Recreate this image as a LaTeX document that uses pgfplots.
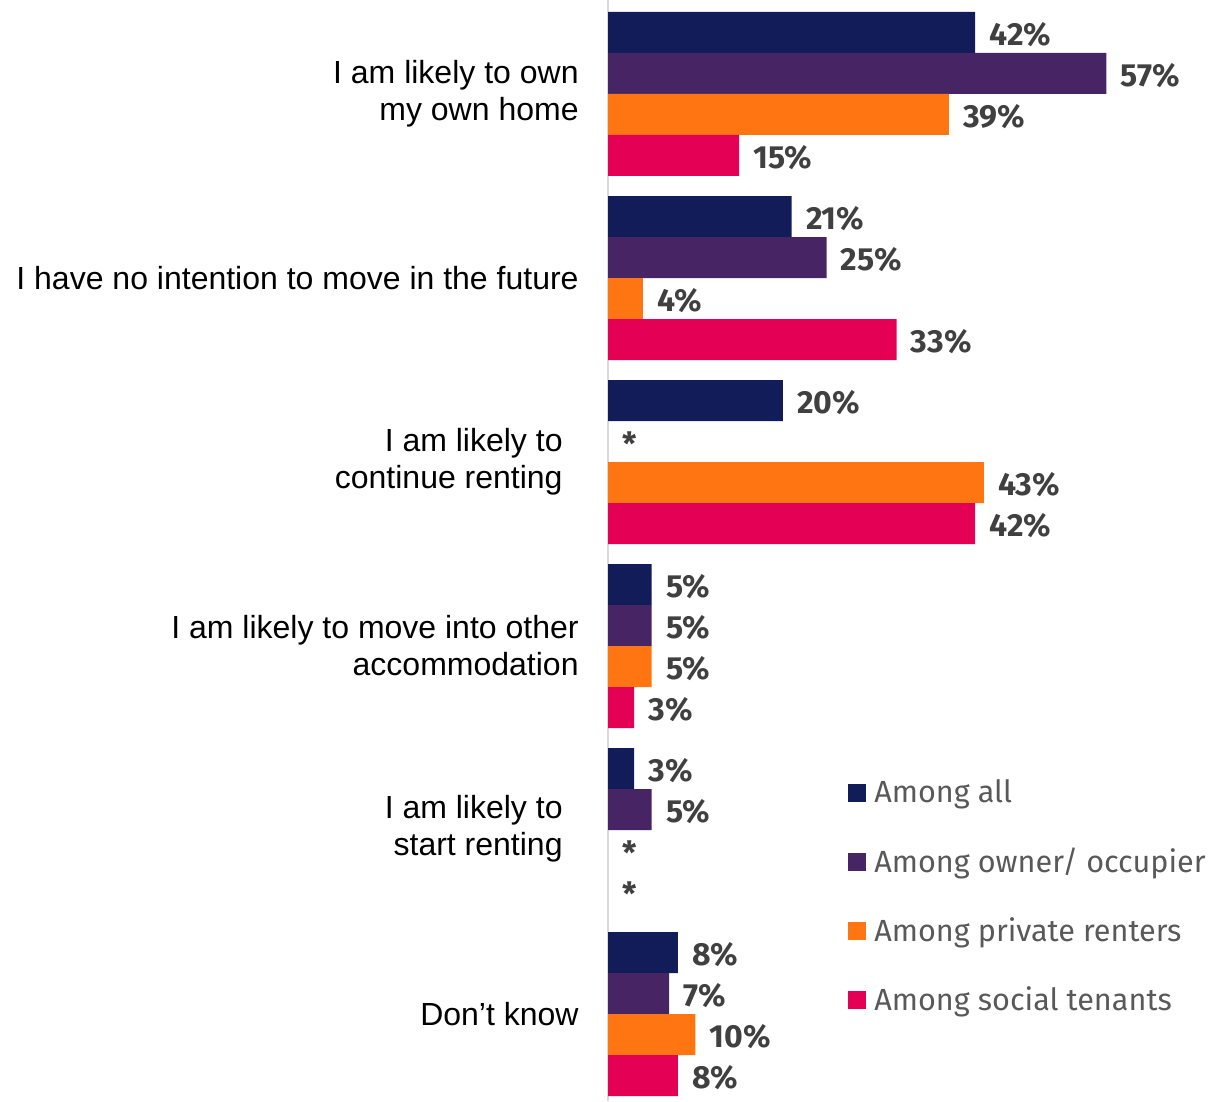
\documentclass[border=0pt]{standalone}
\usepackage{pgfplots}
\pgfplotsset{compat=1.18}
\usepackage{fontspec}
\setmainfont{Liberation Sans}
\newfontfamily\fira{Fira Sans}
\definecolor{cnavy}{HTML}{121C58}
\definecolor{cpurp}{HTML}{472463}
\definecolor{corange}{HTML}{FF7512}
\definecolor{cpink}{HTML}{E40055}
\definecolor{lab}{HTML}{404040}
\definecolor{leg}{HTML}{595959}
\begin{document}
\begin{tikzpicture}
\begin{axis}[name=ax, at={(0,0)}, anchor=south west,
 width=306pt, height=550.5pt, scale only axis,
 xmin=0, xmax=70, ymin=0, ymax=1101, y dir=reverse,
 axis x line=none, axis y line*=left,
 y axis line style={draw=black!15, line width=1pt},
 ytick=\empty, xtick=\empty,
 xbar, bar width=20.5pt, clip=false,
 every axis plot/.append style={bar shift=0pt, draw=none},
 sq/.style={legend image code/.code={\fill[##1] (0pt,-4.5pt) rectangle (9pt,4.5pt);}},
 point meta=explicit symbolic,
 nodes near coords,
 every node near coord/.append style={anchor=west, inner sep=0pt, xshift=7pt, yshift=-1pt,
   font=\fira\bfseries\fontsize{16pt}{19pt}\selectfont, text=lab},
 legend style={at={(axis description cs:0.392,0.292)}, anchor=north west,
   draw=none, fill=none, inner sep=0pt, text=leg,
   font=\fira\fontsize{15.3pt}{18pt}\selectfont,
   row sep=21pt, column sep=4pt, nodes={inner sep=0pt}},
 legend cell align=left,
]
\addplot[fill=cnavy, sq] coordinates {(42,32.5)[42\%] (21,216.5)[21\%] (20,400.5)[20\%] (5,584.5)[5\%] (3,768.5)[3\%] (8,952.5)[8\%]};
\addplot[fill=cpurp, sq] coordinates {(57,73.5)[57\%] (25,257.5)[25\%] (5,625.5)[5\%] (5,809.5)[5\%] (7,993.5)[7\%]};
\addplot[fill=corange, sq] coordinates {(39,114.5)[39\%] (4,298.5)[4\%] (43,482.5)[43\%] (5,666.5)[5\%] (10,1034.5)[10\%]};
\addplot[fill=cpink, sq] coordinates {(15,155.5)[15\%] (33,339.5)[33\%] (42,523.5)[42\%] (3,707.5)[3\%] (8,1075.5)[8\%]};
\addplot[fill=none, draw=none, forget plot] coordinates {(0,441.5)[*] (0,850.5)[*] (0,891.5)[*]};
\legend{Among all, Among owner/ occupier, Among private renters, Among social tenants}
\begin{scope}[every node/.style={anchor=east, align=right, inner sep=0pt, font=\fontsize{16pt}{18.5pt}\selectfont}]
\node[xshift=-14.5pt] at (axis cs:0,94) {I am likely to own\\my own home};
\node[xshift=-14.5pt] at (axis cs:0,278) {I have no intention to move in the future};
\node[xshift=-22.5pt] at (axis cs:0,462) {I am likely to\\continue renting};
\node[xshift=-14.5pt] at (axis cs:0,646) {I am likely to move into other\\accommodation};
\node[xshift=-22.5pt] at (axis cs:0,829) {I am likely to\\start renting};
\node[xshift=-14.5pt] at (axis cs:0,1014) {Don’t know};
\end{scope}
\end{axis}
\pgfresetboundingbox
\path[use as bounding box] ([xshift=-304pt]ax.south west) rectangle (ax.north east);
\end{tikzpicture}
\end{document}
